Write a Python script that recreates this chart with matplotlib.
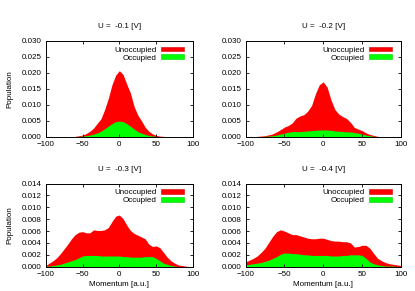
import numpy as np
import matplotlib
matplotlib.use("Agg")
import matplotlib.pyplot as plt
from matplotlib.patches import Patch
from matplotlib.ticker import FormatStrFormatter

plt.rcParams['font.family'] = ['Liberation Sans', 'DejaVu Sans']

momentum = list(range(-100, 101, 5))

titles = ["U =  -0.1 [V]", "U =  -0.2 [V]", "U =  -0.3 [V]", "U =  -0.4 [V]"]

unocc_01 = [0, 0, 0, 0, 0, 0, 0, 0, 0.0001, 0.0003, 0.0005, 0.001, 0.0017, 0.0027, 0.0042,
            0.0056, 0.0085, 0.012, 0.0163, 0.0193, 0.0207, 0.0195, 0.0165, 0.0137, 0.0095,
            0.0068, 0.0050, 0.0030, 0.0017, 0.0009, 0.0004, 0.0002, 0.0001, 0, 0, 0, 0, 0, 0, 0, 0]
occ_01 = [0, 0, 0, 0, 0, 0, 0, 0, 0, 0.0001, 0.0002, 0.0003, 0.0005, 0.0008, 0.0012,
          0.0017, 0.0025, 0.0033, 0.0041, 0.0047, 0.0049, 0.0047, 0.0041, 0.0033, 0.0024,
          0.0016, 0.0011, 0.0007, 0.0004, 0.0002, 0.0001, 0, 0, 0, 0, 0, 0, 0, 0, 0, 0]

unocc_02 = [0, 0, 0, 0.0001, 0.0002, 0.0003, 0.0006, 0.0009, 0.0015, 0.0022, 0.0030,
            0.0035, 0.0043, 0.0058, 0.0065, 0.0069, 0.0080, 0.0098, 0.0135, 0.0163, 0.0172,
            0.0155, 0.0115, 0.0085, 0.0071, 0.0063, 0.0057, 0.0045, 0.0029, 0.0024, 0.0019,
            0.0012, 0.0007, 0.0004, 0.0001, 0, 0, 0, 0, 0, 0]
occ_02 = [0, 0, 0, 0, 0, 0.0001, 0.0002, 0.0003, 0.0005, 0.0008, 0.0011,
          0.0014, 0.0016, 0.0016, 0.0016, 0.0017, 0.0018, 0.0019, 0.0020, 0.0021, 0.0021,
          0.0021, 0.0020, 0.0018, 0.0017, 0.0016, 0.0015, 0.0015, 0.0013, 0.0011, 0.0008,
          0.0005, 0.0003, 0.0001, 0, 0, 0, 0, 0, 0, 0]

unocc_03 = [0.0002, 0.0006, 0.0010, 0.0015, 0.0022, 0.0030, 0.0038, 0.0047, 0.0054, 0.0058,
            0.0059, 0.0057, 0.0057, 0.0062, 0.0061, 0.0061, 0.0062, 0.0066, 0.0076, 0.0085,
            0.0087, 0.0081, 0.0070, 0.0061, 0.0056, 0.0053, 0.0050, 0.0047, 0.0038, 0.0034,
            0.0035, 0.0032, 0.0024, 0.0016, 0.0010, 0.0006, 0.0003, 0.0002, 0.0001, 0, 0]
occ_03 = [0.0001, 0.0001, 0.0002, 0.0003, 0.0004, 0.0006, 0.0008, 0.0010, 0.0012, 0.0015,
          0.0018, 0.0019, 0.0019, 0.0019, 0.0019, 0.0018, 0.0018, 0.0018, 0.0018, 0.0018,
          0.0018, 0.0017, 0.0017, 0.0016, 0.0016, 0.0016, 0.0016, 0.0017, 0.0017, 0.0017,
          0.0014, 0.0010, 0.0006, 0.0004, 0.0002, 0.0001, 0, 0, 0, 0, 0]

unocc_04 = [0.0008, 0.0011, 0.0014, 0.0018, 0.0024, 0.0031, 0.0041, 0.0051, 0.0059, 0.0062,
            0.0060, 0.0057, 0.0054, 0.0054, 0.0052, 0.0050, 0.0048, 0.0047, 0.0047, 0.0048,
            0.0048, 0.0046, 0.0044, 0.0043, 0.0043, 0.0042, 0.0042, 0.0040, 0.0033, 0.0034,
            0.0036, 0.0036, 0.0031, 0.0022, 0.0014, 0.0010, 0.0007, 0.0005, 0.0004, 0.0003, 0.0002]
occ_04 = [0.0003, 0.0004, 0.0005, 0.0006, 0.0007, 0.0009, 0.0011, 0.0014, 0.0017, 0.0021,
          0.0023, 0.0023, 0.0022, 0.0022, 0.0021, 0.0020, 0.0020, 0.0019, 0.0019, 0.0019,
          0.0019, 0.0019, 0.0018, 0.0018, 0.0018, 0.0019, 0.0019, 0.0020, 0.0020, 0.0020,
          0.0019, 0.0014, 0.0008, 0.0005, 0.0003, 0.0002, 0.0001, 0.0001, 0.0001, 0, 0]

unocc = [unocc_01, unocc_02, unocc_03, unocc_04]
occ = [occ_01, occ_02, occ_03, occ_04]

xticks = [-100, -50, 0, 50, 100]
yticks_top = [0, 0.005, 0.010, 0.015, 0.020, 0.025, 0.030]
yticks_bot = [0, 0.002, 0.004, 0.006, 0.008, 0.010, 0.012, 0.014]

W, H = 415, 291
fig = plt.figure(figsize=(W / 100, H / 100), dpi=100)

def rect(l, t, r, b):
    return [l / W, 1 - b / H, (r - l) / W, (b - t) / H]

px_rects = [(45.7, 41, 193, 136.7), (245.5, 41, 401, 136.7),
            (45.7, 183.5, 193, 266.7), (245.5, 183.5, 401, 266.7)]

FS = 5.8
x = np.array(momentum)
for i in range(4):
    l, t, r, b = px_rects[i]
    ax = fig.add_axes(rect(l, t, r, b))
    ax.fill_between(x, 0, unocc[i], color='#ff0000', linewidth=0)
    ax.fill_between(x, 0, occ[i], color='#00ff00', linewidth=0)
    ax.set_xlim(-100, 100)
    ax.set_xticks(xticks)
    if i < 2:
        ax.set_ylim(0, 0.030)
        ax.set_yticks(yticks_top)
    else:
        ax.set_ylim(0, 0.014)
        ax.set_yticks(yticks_bot)
        ax.set_xlabel("Momentum [a.u.]", fontsize=FS, labelpad=2)
    if i % 2 == 0:
        ax.set_ylabel("Population", fontsize=FS, labelpad=6)
    ax.yaxis.set_major_formatter(FormatStrFormatter('%.3f'))
    ax.tick_params(direction='in', top=True, right=True, length=2.5, width=0.6,
                   labelsize=FS, pad=3)
    for s in ax.spines.values():
        s.set_linewidth(0.7)
    ax.set_title(titles[i], fontsize=FS, pad=9)
    handles = [Patch(facecolor='#ff0000', edgecolor='#cc0000', linewidth=0.4),
               Patch(facecolor='#00ff00', edgecolor='#00cc00', linewidth=0.4)]
    ax.legend(handles, ["Unoccupied", "Occupied"], loc='upper right', frameon=False,
              bbox_to_anchor=(1 - 3.5 / (r - l), 1.0),
              markerfirst=False, fontsize=FS, handlelength=2.9, handleheight=0.55,
              labelspacing=0.05, borderpad=0.2, borderaxespad=0.5, handletextpad=0.5)

fig.savefig("out.png", dpi=100)
